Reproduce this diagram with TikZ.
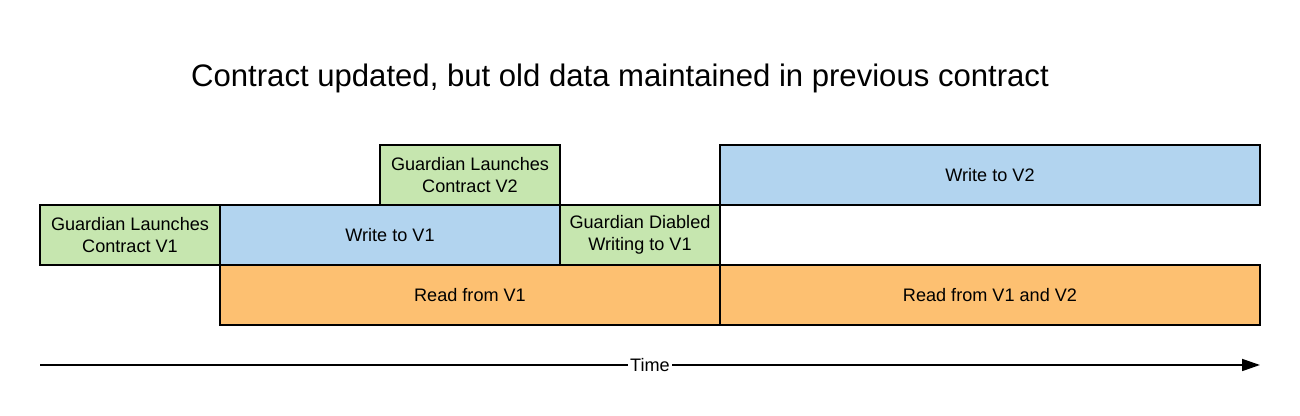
\documentclass[tikz,border=0pt]{standalone}
\usepackage{fontspec}
\setmainfont{Liberation Sans}
\usepackage{tikz}
\usetikzlibrary{positioning, arrows.meta}
\definecolor{launchgreen}{HTML}{C6E6AF}
\definecolor{writeblue}{HTML}{B2D4EF}
\definecolor{readorange}{HTML}{FDC071}
\tikzset{
	phase/.style={draw, line width=1.5pt, anchor=north west, minimum height=1.2cm, inner sep=0pt, outer sep=0pt, align=center, font=\fontsize{10.3}{12.4}\selectfont}, % every box on the timeline
	launch/.style={phase, fill=launchgreen}, % guardian actions
	writing/.style={phase, fill=writeblue}, % write phases
	reading/.style={phase, fill=readorange}, % read phases
}
\begin{document}
\begin{tikzpicture}
	\useasboundingbox (0,0) rectangle (26,-8.32);
	\node[font=\fontsize{17.7}{20}\selectfont] (title) at (12.4,-1.56) {Contract updated, but old data maintained in previous contract};
	% top row
	\node[launch, minimum width=3.6cm] at (7.6,-2.9) (launch2) {Guardian Launches\\Contract V2};
	\node[writing, minimum width=10.8cm] at (14.4,-2.9) (write2) {Write to V2};
	% middle row
	\node[launch, minimum width=3.6cm] at (0.8,-4.1) (launch1) {Guardian Launches\\Contract V1};
	\node[writing, minimum width=6.8cm] at (4.4,-4.1) (write1) {Write to V1};
	\node[launch, minimum width=3.2cm] at (11.2,-4.1) (disable1) {Guardian Diabled\\Writing to V1};
	% bottom row
	\node[reading, minimum width=10cm] at (4.4,-5.3) (read1) {Read from V1};
	\node[reading, minimum width=10.8cm] at (14.4,-5.3) (read12) {Read from V1 and V2};
	% time axis
	\coordinate (t0) at (0.8,-7.3);
	\coordinate (t1) at (25.2,-7.3);
	\draw[line width=1pt, -{Triangle[length=0.36cm, width=0.24cm]}] (t0) -- (t1)
		node[pos=0.5, fill=white, inner sep=1pt, font=\fontsize{10.3}{12.4}\selectfont] (time) {Time};
\end{tikzpicture}
\end{document}
